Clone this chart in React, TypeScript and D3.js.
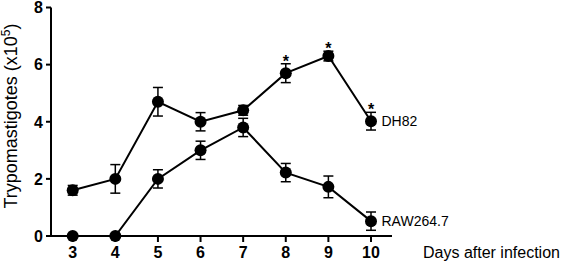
import React from "react";
import * as d3 from "d3";

const days = [3, 4, 5, 6, 7, 8, 9, 10];
const dh82Mean = [1.6, 2.0, 4.7, 4.0, 4.4, 5.7, 6.3, 4.02];
const dh82Err = [0.17, 0.5, 0.5, 0.32, 0.17, 0.33, 0.17, 0.31];
const rawMean = [0, 0, 2.0, 3.0, 3.8, 2.22, 1.72, 0.52];
const rawErr = [0, 0, 0.32, 0.32, 0.32, 0.32, 0.38, 0.32];
const significant = [8, 9, 10];
const yTicks = [0, 2, 4, 6, 8];

const W = 561;
const H = 264;

export default function App() {
  const x = d3.scaleLinear().domain([3, 10]).range([72.7, 371]);
  const y = d3.scaleLinear().domain([0, 8]).range([236, 7.5]);
  const line = d3
    .line<[number, number]>()
    .x((d) => x(d[0]))
    .y((d) => y(d[1]));

  const series = [
    { name: "DH82", mean: dh82Mean, err: dh82Err },
    { name: "RAW264.7", mean: rawMean, err: rawErr },
  ];

  const font = "Liberation Sans, Arial, Helvetica, sans-serif";

  return (
    <svg
      width={W}
      height={H}
      style={{ position: "absolute", left: 0, top: 0, background: "#fff" }}
      fontFamily={font}
    >
      <rect width={W} height={H} fill="#fff" />
      {/* axes */}
      <line x1={51} x2={51} y1={y(8)} y2={y(0) + 1} stroke="#000" strokeWidth={2} />
      <line x1={50} x2={392} y1={y(0)} y2={y(0)} stroke="#000" strokeWidth={2} />
      {yTicks.map((t) => (
        <g key={"y" + t}>
          <line x1={46} x2={51} y1={y(t)} y2={y(t)} stroke="#000" strokeWidth={2} />
          <text
            x={43}
            y={y(t)}
            dy="0.36em"
            textAnchor="end"
            fontSize={16}
            fontWeight="bold"
          >
            {t}
          </text>
        </g>
      ))}
      {days.map((d) => (
        <g key={"x" + d}>
          <line x1={x(d)} x2={x(d)} y1={y(0)} y2={y(0) + 6} stroke="#000" strokeWidth={2} />
          <text x={x(d)} y={258} textAnchor="middle" fontSize={16} fontWeight="bold">
            {d}
          </text>
        </g>
      ))}
      <text x={423} y={258} fontSize={16}>
        Days after infection
      </text>
      <text
        transform={`translate(17,${116}) rotate(-90)`}
        textAnchor="middle"
        fontSize={18}
      >
        Trypomastigotes (x10
        <tspan fontSize={12} dy={-7}>
          5
        </tspan>
        <tspan dy={7}>)</tspan>
      </text>
      {series.map((s) => {
        const pts: [number, number][] = days.map((d, i) => [d, s.mean[i]]);
        return (
          <g key={s.name}>
            <path d={line(pts) || ""} fill="none" stroke="#000" strokeWidth={2} />
            {days.map((d, i) =>
              s.err[i] > 0 ? (
                <g key={d} stroke="#000" strokeWidth={1.5}>
                  <line
                    x1={x(d)}
                    x2={x(d)}
                    y1={y(s.mean[i] + s.err[i])}
                    y2={y(s.mean[i] - s.err[i])}
                  />
                  <line
                    x1={x(d) - 5}
                    x2={x(d) + 5}
                    y1={y(s.mean[i] + s.err[i])}
                    y2={y(s.mean[i] + s.err[i])}
                  />
                  <line
                    x1={x(d) - 5}
                    x2={x(d) + 5}
                    y1={y(s.mean[i] - s.err[i])}
                    y2={y(s.mean[i] - s.err[i])}
                  />
                </g>
              ) : null
            )}
            {days.map((d, i) => (
              <circle key={"c" + d} cx={x(d)} cy={y(s.mean[i])} r={6} fill="#000" />
            ))}
            <text
              x={381.5}
              y={y(s.mean[s.mean.length - 1])}
              dy="0.36em"
              fontSize={14}
            >
              {s.name}
            </text>
          </g>
        );
      })}
      {significant.map((d) => {
        const i = days.indexOf(d);
        return (
          <text
            key={"s" + d}
            x={x(d)}
            y={y(dh82Mean[i] + dh82Err[i]) + 3}
            textAnchor="middle"
            fontSize={16}
            fontWeight="bold"
          >
            *
          </text>
        );
      })}
    </svg>
  );
}
